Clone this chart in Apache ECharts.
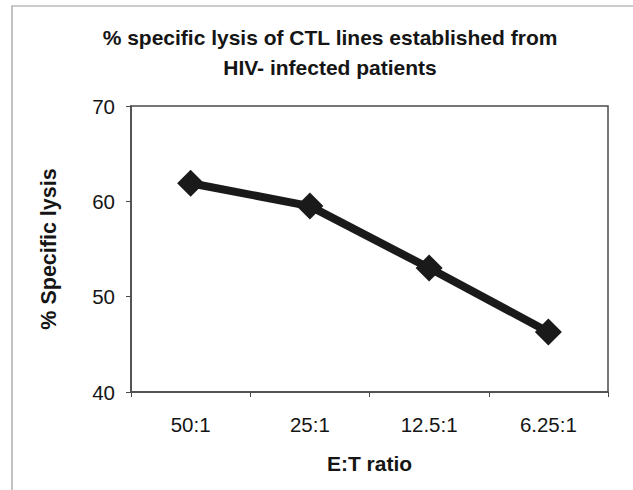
<!DOCTYPE html>
<html>
<head>
<meta charset="utf-8">
<script src="https://cdn.jsdelivr.net/npm/echarts@6/dist/echarts.min.js"></script>
<style>
  html, body { margin: 0; padding: 0; background: #ffffff; }
  #chart { width: 633px; height: 490px; }
</style>
</head>
<body>
<div id="chart"></div>
<script>
// Effector:target ratios and the mean % specific lysis at each
const ratios = ['50:1', '25:1', '12.5:1', '6.25:1'];
const lysis = [61.9, 59.5, 53.0, 46.3];
const yTicks = { min: 40, max: 70, step: 10 };

const titleText = '% specific lysis of CTL lines established from\nHIV- infected patients';
const xName = 'E:T ratio';
const yName = '% Specific lysis';

const FONT = 'Liberation Sans, Arial, sans-serif';
const INK = '#151515';

const chart = echarts.init(document.getElementById('chart'), null, { renderer: 'svg' });
chart.setOption({
  backgroundColor: '#ffffff',
  animation: false,
  title: {
    text: titleText,
    left: 325,
    textAlign: 'center',
    top: 17,
    textStyle: { fontFamily: FONT, fontSize: 21, fontWeight: 'bold', color: INK, lineHeight: 30 }
  },
  graphic: [{
    type: 'rect',
    silent: true,
    shape: { x: 12, y: 6, width: 700, height: 600 },
    style: { fill: 'none', stroke: '#9a9a9a', lineWidth: 1.2 }
  }],
  grid: {
    left: 131, right: 25, top: 106, bottom: 98,
    show: true, borderColor: '#4a4a4a', borderWidth: 1.5, backgroundColor: 'transparent'
  },
  xAxis: {
    type: 'category',
    data: ratios,
    boundaryGap: true,
    name: xName,
    nameLocation: 'middle',
    nameGap: 61,
    nameTextStyle: { fontFamily: FONT, fontSize: 21, fontWeight: 'bold', color: INK },
    axisLine: { lineStyle: { color: '#4a4a4a', width: 1.5 } },
    axisTick: { show: true, inside: false, length: 5, lineStyle: { color: '#4a4a4a' } },
    axisLabel: { fontFamily: FONT, fontSize: 20.5, color: INK, margin: 22 },
    splitLine: { show: false }
  },
  yAxis: {
    type: 'value',
    min: yTicks.min, max: yTicks.max, interval: yTicks.step,
    name: yName,
    nameLocation: 'middle',
    nameGap: 71,
    nameTextStyle: { fontFamily: FONT, fontSize: 21.5, fontWeight: 'bold', color: INK },
    axisLine: { show: true, lineStyle: { color: '#4a4a4a', width: 1.5 } },
    axisTick: { show: true, inside: false, length: 5, lineStyle: { color: '#4a4a4a' } },
    axisLabel: { fontFamily: FONT, fontSize: 20.5, color: INK, margin: 16 },
    splitLine: { show: false }
  },
  series: [{
    type: 'line',
    data: lysis,
    symbol: 'diamond',
    symbolSize: 27,
    lineStyle: { color: '#1a1a1a', width: 8 },
    itemStyle: { color: '#1a1a1a' }
  }]
});
</script>
</body>
</html>
